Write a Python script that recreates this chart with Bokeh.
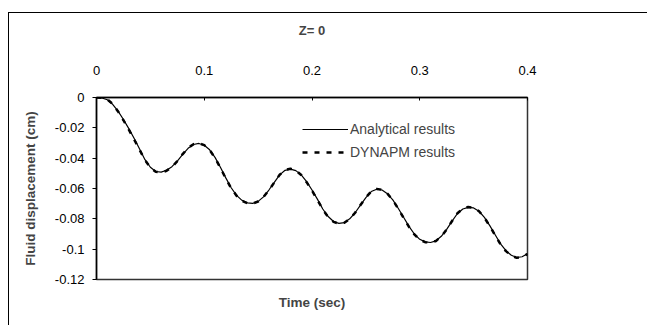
from bokeh.plotting import figure
from bokeh.models import Range1d, LinearAxis, FixedTicker, Legend, LegendItem, Title
from bokeh.embed import file_html
from bokeh.resources import INLINE

time_s = [0.000, 0.005, 0.010, 0.015, 0.020, 0.025, 0.030, 0.035, 0.040, 0.045,
          0.050, 0.055, 0.060, 0.065, 0.070, 0.075, 0.080, 0.085, 0.090, 0.095,
          0.100, 0.105, 0.110, 0.115, 0.120, 0.125, 0.130, 0.135, 0.140, 0.145,
          0.150, 0.155, 0.160, 0.165, 0.170, 0.175, 0.180, 0.185, 0.190, 0.195,
          0.200, 0.205, 0.210, 0.215, 0.220, 0.225, 0.230, 0.235, 0.240, 0.245,
          0.250, 0.255, 0.260, 0.265, 0.270, 0.275, 0.280, 0.285, 0.290, 0.295,
          0.300, 0.305, 0.310, 0.315, 0.320, 0.325, 0.330, 0.335, 0.340, 0.345,
          0.350, 0.355, 0.360, 0.365, 0.370, 0.375, 0.380, 0.385, 0.390, 0.395,
          0.400]

analytical = [0.0, -0.0003, -0.0015, -0.0045, -0.0090, -0.0145, -0.0205, -0.0270, -0.0340, -0.0410,
              -0.0460, -0.0488, -0.0492, -0.0480, -0.0456, -0.0420, -0.0375, -0.0335, -0.0310, -0.0303,
              -0.0315, -0.0345, -0.0395, -0.0460, -0.0530, -0.0595, -0.0645, -0.0678, -0.0695, -0.0698,
              -0.0685, -0.0655, -0.0610, -0.0560, -0.0510, -0.0480, -0.0472, -0.0482, -0.0510, -0.0555,
              -0.0610, -0.0670, -0.0735, -0.0785, -0.0818, -0.0830, -0.0825, -0.0800, -0.0760, -0.0710,
              -0.0660, -0.0620, -0.0605, -0.0610, -0.0635, -0.0675, -0.0730, -0.0790, -0.0850, -0.0900,
              -0.0935, -0.0952, -0.0956, -0.0945, -0.0915, -0.0870, -0.0815, -0.0765, -0.0735, -0.0724,
              -0.0728, -0.0750, -0.0790, -0.0845, -0.0905, -0.0965, -0.1010, -0.1040, -0.1055, -0.1050,
              -0.1030]

dynapm = [0.0, -0.0002, -0.0012, -0.0042, -0.0092, -0.0150, -0.0212, -0.0278, -0.0345, -0.0412,
          -0.0462, -0.0490, -0.0495, -0.0483, -0.0458, -0.0420, -0.0373, -0.0332, -0.0308, -0.0302,
          -0.0314, -0.0346, -0.0398, -0.0464, -0.0534, -0.0598, -0.0648, -0.0681, -0.0697, -0.0699,
          -0.0686, -0.0656, -0.0611, -0.0560, -0.0509, -0.0478, -0.0470, -0.0481, -0.0511, -0.0558,
          -0.0614, -0.0675, -0.0738, -0.0788, -0.0820, -0.0832, -0.0826, -0.0801, -0.0760, -0.0709,
          -0.0659, -0.0619, -0.0603, -0.0608, -0.0634, -0.0676, -0.0733, -0.0794, -0.0853, -0.0903,
          -0.0937, -0.0954, -0.0957, -0.0946, -0.0916, -0.0870, -0.0814, -0.0763, -0.0733, -0.0722,
          -0.0727, -0.0750, -0.0792, -0.0848, -0.0909, -0.0968, -0.1013, -0.1043, -0.1057, -0.1052,
          -0.1032]

x_ticks = [0, 0.1, 0.2, 0.3, 0.4]
x_tick_labels = ["0", "0.1", "0.2", "0.3", "0.4"]
y_ticks = [0, -0.02, -0.04, -0.06, -0.08, -0.1, -0.12]
y_tick_labels = ["0", "-0.02", "-0.04", "-0.06", "-0.08", "-0.1", "-0.12"]

FONT = "Liberation Sans"

p = figure(width=639, height=313, output_backend="svg", toolbar_location=None,
           x_range=Range1d(0, 0.4), y_range=Range1d(-0.12, 0),
           x_axis_location=None, y_axis_location=None,
           min_border_left=87, min_border_right=121, min_border_top=84, min_border_bottom=47)
p.styles = {"margin-left": "9px", "margin-top": "13px",
            "box-shadow": "-1px -1px 0px 0px black"}
p.grid.visible = False
p.outline_line_color = "#333333"
p.outline_line_width = 1.5
p.background_fill_color = "white"
p.border_fill_color = "white"

xa = LinearAxis(ticker=FixedTicker(ticks=x_ticks),
                major_label_overrides={t: l for t, l in zip(x_ticks, x_tick_labels)})
xa.major_tick_in = 3
xa.major_tick_out = 0
xa.minor_tick_line_color = None
xa.major_label_standoff = 23
xa.major_label_text_font = FONT
xa.major_label_text_font_size = "13px"
xa.major_label_text_color = "black"
xa.axis_line_color = "black"
xa.axis_line_width = 1.5
xa.axis_label = "Z= 0"
xa.axis_label_text_font = FONT
xa.axis_label_text_font_size = "13px"
xa.axis_label_text_font_style = "bold"
xa.axis_label_standoff = 25
p.add_layout(xa, "above")

ya = LinearAxis(ticker=FixedTicker(ticks=y_ticks),
                major_label_overrides={t: l for t, l in zip(y_ticks, y_tick_labels)})
ya.major_tick_in = 0
ya.major_tick_out = 4
ya.minor_tick_line_color = None
ya.major_label_standoff = 8
ya.major_label_text_font = FONT
ya.major_label_text_font_size = "13px"
ya.major_label_text_color = "black"
ya.axis_line_color = "black"
ya.axis_line_width = 1.5
ya.axis_label = "Fluid displacement (cm)"
ya.axis_label_text_font = FONT
ya.axis_label_text_font_size = "13.5px"
ya.axis_label_text_font_style = "bold"
ya.axis_label_standoff = 14
p.add_layout(ya, "left")

xt = Title(text="Time (sec)", align="center", text_font=FONT, text_font_size="13.5px",
           text_font_style="bold", standoff=27)
p.add_layout(xt, "below")

r_an = p.line(time_s, analytical, line_color="black", line_width=1.2)
r_dy = p.line(time_s, dynapm, line_color="black", line_width=2.5, line_dash="5 7")

leg = Legend(items=[LegendItem(label="Analytical results", renderers=[r_an]),
                    LegendItem(label="DYNAPM results", renderers=[r_dy])],
             location=(206, 119), glyph_width=46, glyph_height=14, label_standoff=2,
             spacing=7, padding=0, margin=0, border_line_color=None,
             background_fill_alpha=0, label_text_font=FONT, label_text_font_size="14px",
             label_height=14)
p.add_layout(leg, "center")

open("out.html", "w").write(file_html(p, INLINE))
